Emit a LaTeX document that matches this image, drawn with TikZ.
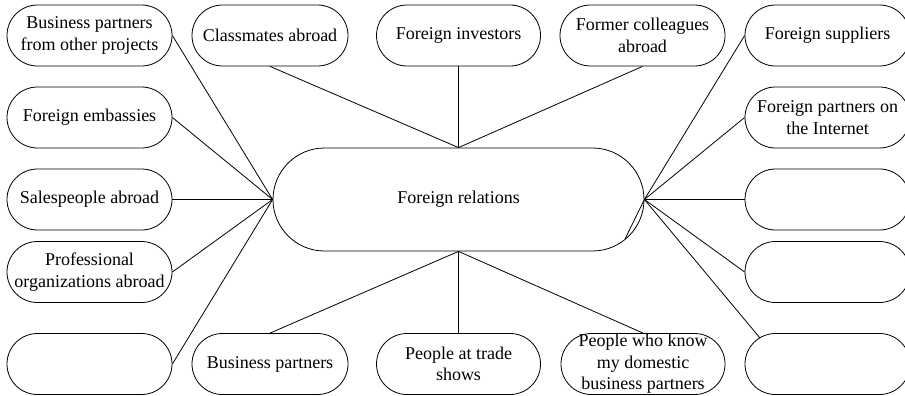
\documentclass[tikz,border=0pt]{standalone}
\usepackage{fontspec}
\setmainfont{Liberation Serif}
\begin{document}
\begin{tikzpicture}[x=1pt,y=-1pt,
  every node/.style={font=\fontsize{18}{21.5}\selectfont},
  bubble/.style={draw, line width=0.8pt, rectangle, rounded corners=30.5pt,
    minimum height=61pt, minimum width=#1, inner sep=0pt, align=center},
  bubble/.default=165pt,
  hub/.style={draw, line width=0.8pt, rectangle, rounded corners=51.5pt,
    minimum height=103pt, minimum width=371pt, inner sep=0pt},
  link/.style={line width=0.8pt}]
\useasboundingbox (0,0) rectangle (905,396);

% central topic
\node[hub] (c) at (458.5,199.5) {Foreign relations};

% left column
\node[bubble] (l1) at (89.5,35.5) {Business partners\\from other projects};
\node[bubble] (l2) at (89.5,117.5) {Foreign embassies};
\node[bubble] (l3) at (89.5,199.5) {Salespeople abroad};
\node[bubble] (l4) at (89.5,272) {Professional\\organizations abroad};
\node[bubble] (l5) at (89.5,364) {};

% top row
\node[bubble=156pt] (t1) at (270,35.5) {Classmates abroad};
\node[bubble=164pt] (t2) at (458.5,35.5) {Foreign investors};
\node[bubble] (t3) at (642.5,35.5) {Former colleagues\\abroad};

% right column
\node[bubble] (r1) at (827.5,35.5) {Foreign suppliers};
\node[bubble] (r2) at (827.5,117.5) {Foreign partners on\\the Internet};
\node[bubble] (r3) at (827.5,199.5) {};
\node[bubble] (r4) at (827.5,272) {};
\node[bubble] (r5) at (827.5,364) {};

% bottom row
\node[bubble=156pt] (b1) at (270,364) {Business partners};
\node[bubble=164pt] (b2) at (458.5,364) {People at trade\\shows};
\node[bubble=164pt] (b3) at (643,364) {People who know\\my domestic\\business partners};

% free line ends on the rounded borders
\coordinate (r5tap) at (760,338);
\coordinate (chord) at (625,239);

% connectors
\foreach \n in {l1,l2,l3,l4,l5}
  \draw[link] (\n.east) -- (c.west);
\foreach \n in {r1,r2,r3,r4}
  \draw[link] (\n.west) -- (c.east);
\draw[link] (r5tap) -- (c.east);
\draw[link] (chord) -- (c.east);
\foreach \n in {t1,t2,t3}
  \draw[link] (\n.south) -- (c.north);
\foreach \n in {b1,b2,b3}
  \draw[link] (\n.north) -- (c.south);
\end{tikzpicture}
\end{document}
